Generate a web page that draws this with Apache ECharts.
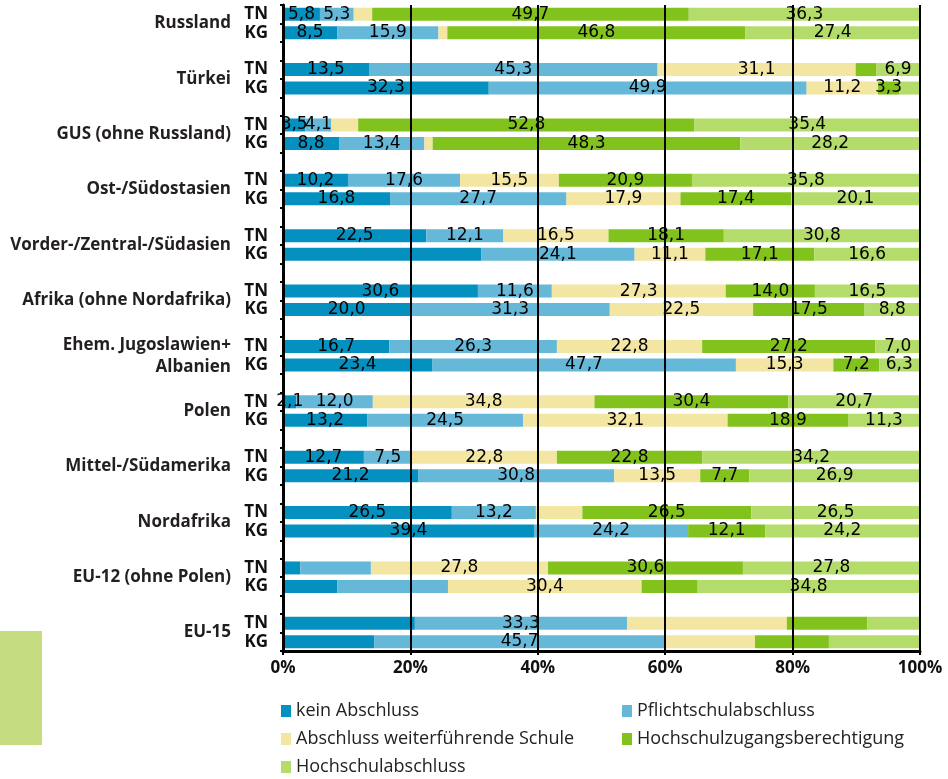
<!DOCTYPE html>
<html>
<head>
<meta charset="utf-8">
<script src="https://cdn.jsdelivr.net/npm/echarts@6/dist/echarts.min.js"></script>
<style>
html,body{margin:0;padding:0;background:#fff;}
#chart{width:948px;height:779px;}
</style>
</head>
<body>
<div id="chart"></div>
<script>
// ---- data ----
var groups = ['Russland', 'Türkei', 'GUS (ohne Russland)', 'Ost-/Südostasien', 'Vorder-/Zentral-/Südasien',
  'Afrika (ohne Nordafrika)', 'Ehem. Jugoslawien+\nAlbanien', 'Polen', 'Mittel-/Südamerika', 'Nordafrika',
  'EU-12 (ohne Polen)', 'EU-15'];
var rowTypes = ['TN', 'KG'];
var seriesNames = ['kein Abschluss', 'Pflichtschulabschluss', 'Abschluss weiterführende Schule',
  'Hochschulzugangsberechtigung', 'Hochschulabschluss'];
// values per row: TN, KG for each group in order
var keinAbschluss = [5.8, 8.5, 13.5, 32.3, 3.5, 8.8, 10.2, 16.8, 22.5, 31.1, 30.6, 20.0, 16.7, 23.4, 2.1, 13.2, 12.7, 21.2, 26.5, 39.4, 2.7, 8.5, 20.7, 14.3];
var pflicht = [5.3, 15.9, 45.3, 49.9, 4.1, 13.4, 17.6, 27.7, 12.1, 24.1, 11.6, 31.3, 26.3, 47.7, 12.0, 24.5, 7.5, 30.8, 13.2, 24.2, 11.1, 17.4, 33.3, 45.7];
var weiterf = [2.9, 1.4, 31.1, 11.2, 4.2, 1.3, 15.5, 17.9, 16.5, 11.1, 27.3, 22.5, 22.8, 15.3, 34.8, 32.1, 22.8, 13.5, 7.3, 0, 27.8, 30.4, 25.1, 14.1];
var hzb = [49.7, 46.8, 3.2, 3.3, 52.8, 48.3, 20.9, 17.4, 18.1, 17.1, 14.0, 17.5, 27.2, 7.2, 30.4, 18.9, 22.8, 7.7, 26.5, 12.1, 30.6, 8.8, 12.6, 11.6];
var hochschul = [36.3, 27.4, 6.9, 3.3, 35.4, 28.2, 35.8, 20.1, 30.8, 16.6, 16.5, 8.8, 7.0, 6.3, 20.7, 11.3, 34.2, 26.9, 26.5, 24.2, 27.8, 34.8, 8.3, 14.3];
// rows whose value labels are not shown in the original
var noLabelKein = [9, 20, 21, 22, 23];
var noLabelPflicht = [20, 21];
var noLabelWeiterf = [0, 1, 4, 5, 18, 19, 22, 23];
var noLabelHzb = [2, 21, 22, 23];
var noLabelHochschul = [3, 22, 23];
var xTicks = [0, 20, 40, 60, 80, 100];
var colors = ['#0591c0', '#66b8d8', '#f3e5a2', '#82c21c', '#b4dc6a'];

// ---- build slots: TN, KG, spacer per group (no spacer after last) ----
var cats = [], rowOfSlot = [];
groups.forEach(function (g, gi) {
  rowTypes.forEach(function (t, ti) { cats.push(gi + '|' + t); rowOfSlot.push(gi * 2 + ti); });
  if (gi < groups.length - 1) { cats.push(gi + '|sp'); rowOfSlot.push(-1); }
});
var groupCats = [], groupLabelOf = {};
for (var i = 0; i <= cats.length; i++) { groupCats.push('b' + i); }
groups.forEach(function (g, gi) { groupLabelOf['b' + (gi * 3 + 1)] = g; });

function fmt(v) { return v.toFixed(1).replace('.', ','); }
function buildData(arr, hidden) {
  return rowOfSlot.map(function (r) {
    if (r < 0) return null;
    var d = { value: arr[r] };
    if (hidden.indexOf(r) >= 0) d.label = { show: false };
    return d;
  });
}
var seriesArrays = [keinAbschluss, pflicht, weiterf, hzb, hochschul];
var hiddenArrays = [noLabelKein, noLabelPflicht, noLabelWeiterf, noLabelHzb, noLabelHochschul];

var series = seriesNames.map(function (n, si) {
  return {
    name: n, type: 'bar', stack: 'all', barWidth: 13,
    itemStyle: { color: colors[si] },
    label: {
      show: true, position: 'inside', color: '#000',
      fontFamily: 'DejaVu Sans', fontSize: 17,
      formatter: function (p) { return fmt(p.value); }
    },
    emphasis: { disabled: true },
    data: buildData(seriesArrays[si], hiddenArrays[si])
  };
});

var chart = echarts.init(document.getElementById('chart'), null, { renderer: 'canvas' });
chart.setOption({
  animation: false,
  backgroundColor: '#fff',
  grid: { left: 283, right: 28, top: 5, bottom: 128, containLabel: false },
  xAxis: {
    type: 'value', min: 0, max: 100, interval: 20, z: 10,
    axisLine: { show: true, lineStyle: { color: '#000', width: 3 } },
    axisTick: { show: true, length: 4, lineStyle: { color: '#000', width: 2 } },
    splitLine: { show: true, lineStyle: { color: '#000', width: 2 } },
    axisLabel: {
      margin: 9, color: '#111', fontFamily: 'Open Sans', fontWeight: 'bold', fontSize: 17,
      formatter: function (v) { return xTicks.indexOf(v) >= 0 ? v + '%' : ''; }
    }
  },
  yAxis: [{
    type: 'category', inverse: true, data: cats, z: 11,
    axisLine: { show: true, lineStyle: { color: '#000', width: 3 } },
    axisTick: { show: true, length: 3, interval: 0, lineStyle: { color: '#000', width: 2 } },
    axisLabel: {
      interval: 0, margin: 15, color: '#111', fontFamily: 'Open Sans', fontWeight: 'bold', fontSize: 17,
      formatter: function (v) { var t = v.split('|')[1]; return t === 'sp' ? '' : t; }
    }
  }, {
    type: 'category', inverse: true, data: groupCats, boundaryGap: false, position: 'left',
    axisLine: { show: false }, axisTick: { show: false }, splitLine: { show: false },
    axisLabel: {
      interval: 0, margin: 52, color: '#231f20', fontFamily: 'Open Sans', fontWeight: 'bold', fontSize: 17,
      lineHeight: 22, align: 'right',
      formatter: function (v) { return groupLabelOf[v] || ''; }
    }
  }],
  legend: {
    show: true, left: 281, top: 697, width: 700, orient: 'horizontal', padding: 0,
    itemWidth: 10, itemHeight: 12, itemGap: 0, icon: 'rect',
    selectedMode: false,
    textStyle: { fontFamily: 'Open Sans', fontSize: 18, color: '#222', width: 326, lineHeight: 28 },
    data: seriesNames
  },
  graphic: [{
    type: 'rect', left: 0, top: 631, shape: { width: 42, height: 114 },
    style: { fill: '#c5dc80' }, silent: true
  }],
  series: series
});
</script>
</body>
</html>
